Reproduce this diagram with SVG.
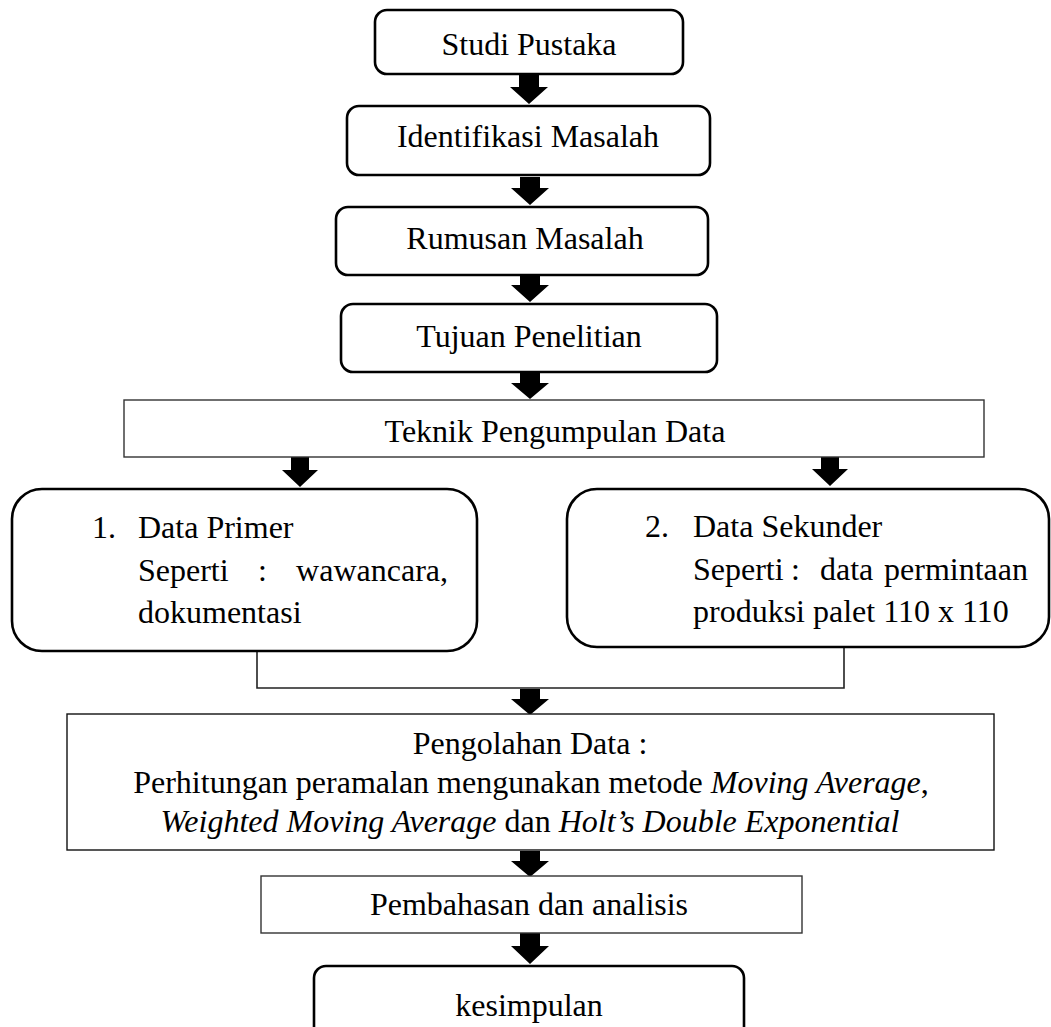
<svg xmlns="http://www.w3.org/2000/svg" width="1051" height="1027" viewBox="0 0 1051 1027">
<style>
  text { font-family: "Liberation Serif", "Times New Roman", serif; font-size: 32px; fill: #000; }
  .c { text-anchor: middle; }
  .i { font-style: italic; }
  .rb { fill: #fff; stroke: #000; stroke-width: 2.6; }
  .sb { fill: #fff; stroke: #333; stroke-width: 1.4; }
  .ln { fill: none; stroke: #222; stroke-width: 1.6; }
  .ar { fill: #000; }
</style>
<rect width="1051" height="1027" fill="#fff"/>

<g id="connectors">
  <path class="ln" d="M257 651 V688 H844 V647"/>
  <polygon class="ar" points="519,75 539,75 539,87 548,87 529,104 510,87 519,87"/>
  <polygon class="ar" points="520,177 540,177 540,188 549,188 530,205 511,188 520,188"/>
  <polygon class="ar" points="520,275 540,275 540,285 549,285 530,302 511,285 520,285"/>
  <polygon class="ar" points="520,372 540,372 540,383 549,383 530,399 511,383 520,383"/>
  <polygon class="ar" points="291,457 309,457 309,470 318,470 300,487 282,470 291,470"/>
  <polygon class="ar" points="821,457 839,457 839,469 848,469 830,486 812,469 821,469"/>
  <polygon class="ar" points="520,689 540,689 540,699 549,699 530,715 511,699 520,699"/>
  <polygon class="ar" points="520,851 540,851 540,861 549,861 530,877 511,861 520,861"/>
  <polygon class="ar" points="520,933 540,933 540,946 549,946 530,964 511,946 520,946"/>
</g>

<g id="studi-pustaka">
  <rect class="rb" x="375" y="10" width="308" height="64" rx="12"/>
  <text class="c" x="529" y="55">Studi Pustaka</text>
</g>
<g id="identifikasi-masalah">
  <rect class="rb" x="347" y="106" width="363" height="69" rx="12"/>
  <text class="c" x="528" y="147">Identifikasi Masalah</text>
</g>
<g id="rumusan-masalah">
  <rect class="rb" x="336" y="207" width="372" height="68" rx="12"/>
  <text class="c" x="525" y="249">Rumusan Masalah</text>
</g>
<g id="tujuan-penelitian">
  <rect class="rb" x="341" y="304" width="376" height="68" rx="12"/>
  <text class="c" x="529" y="347">Tujuan Penelitian</text>
</g>
<g id="teknik-pengumpulan-data">
  <rect class="sb" x="124" y="400" width="860" height="57"/>
  <text class="c" x="555" y="442">Teknik Pengumpulan Data</text>
</g>
<g id="data-primer">
  <rect class="rb" x="12" y="489" width="465" height="162" rx="30"/>
  <text x="92" y="538">1.</text>
  <text x="138" y="538">Data Primer</text>
  <text x="138" y="581">Seperti</text>
  <text x="258" y="581">:</text>
  <text x="448" y="581" text-anchor="end">wawancara,</text>
  <text x="138" y="623">dokumentasi</text>
</g>
<g id="data-sekunder">
  <rect class="rb" x="567" y="489" width="482" height="158" rx="30"/>
  <text x="645" y="537">2.</text>
  <text x="693" y="537">Data Sekunder</text>
  <text x="693" y="580">Seperti</text>
  <text x="791" y="580">:</text>
  <text x="820" y="580">data</text>
  <text x="1028" y="580" text-anchor="end">permintaan</text>
  <text x="693" y="622">produksi palet 110 x 110</text>
</g>
<g id="pengolahan-data">
  <rect class="sb" x="67" y="714" width="927" height="136" style="stroke:#111"/>
  <text class="c" x="530" y="754">Pengolahan Data :</text>
  <text class="c" x="531" y="793">Perhitungan peramalan mengunakan metode <tspan class="i">Moving Average</tspan>,</text>
  <text class="c" x="530" y="832"><tspan class="i">Weighted Moving Average</tspan> dan <tspan class="i">Holt’s Double Exponential</tspan></text>
</g>
<g id="pembahasan-dan-analisis">
  <rect class="sb" x="261" y="876" width="541" height="57"/>
  <text class="c" x="529" y="915">Pembahasan dan analisis</text>
</g>
<g id="kesimpulan">
  <rect class="rb" x="314" y="966" width="430" height="80" rx="12"/>
  <text class="c" x="529" y="1016">kesimpulan</text>
</g>
</svg>
